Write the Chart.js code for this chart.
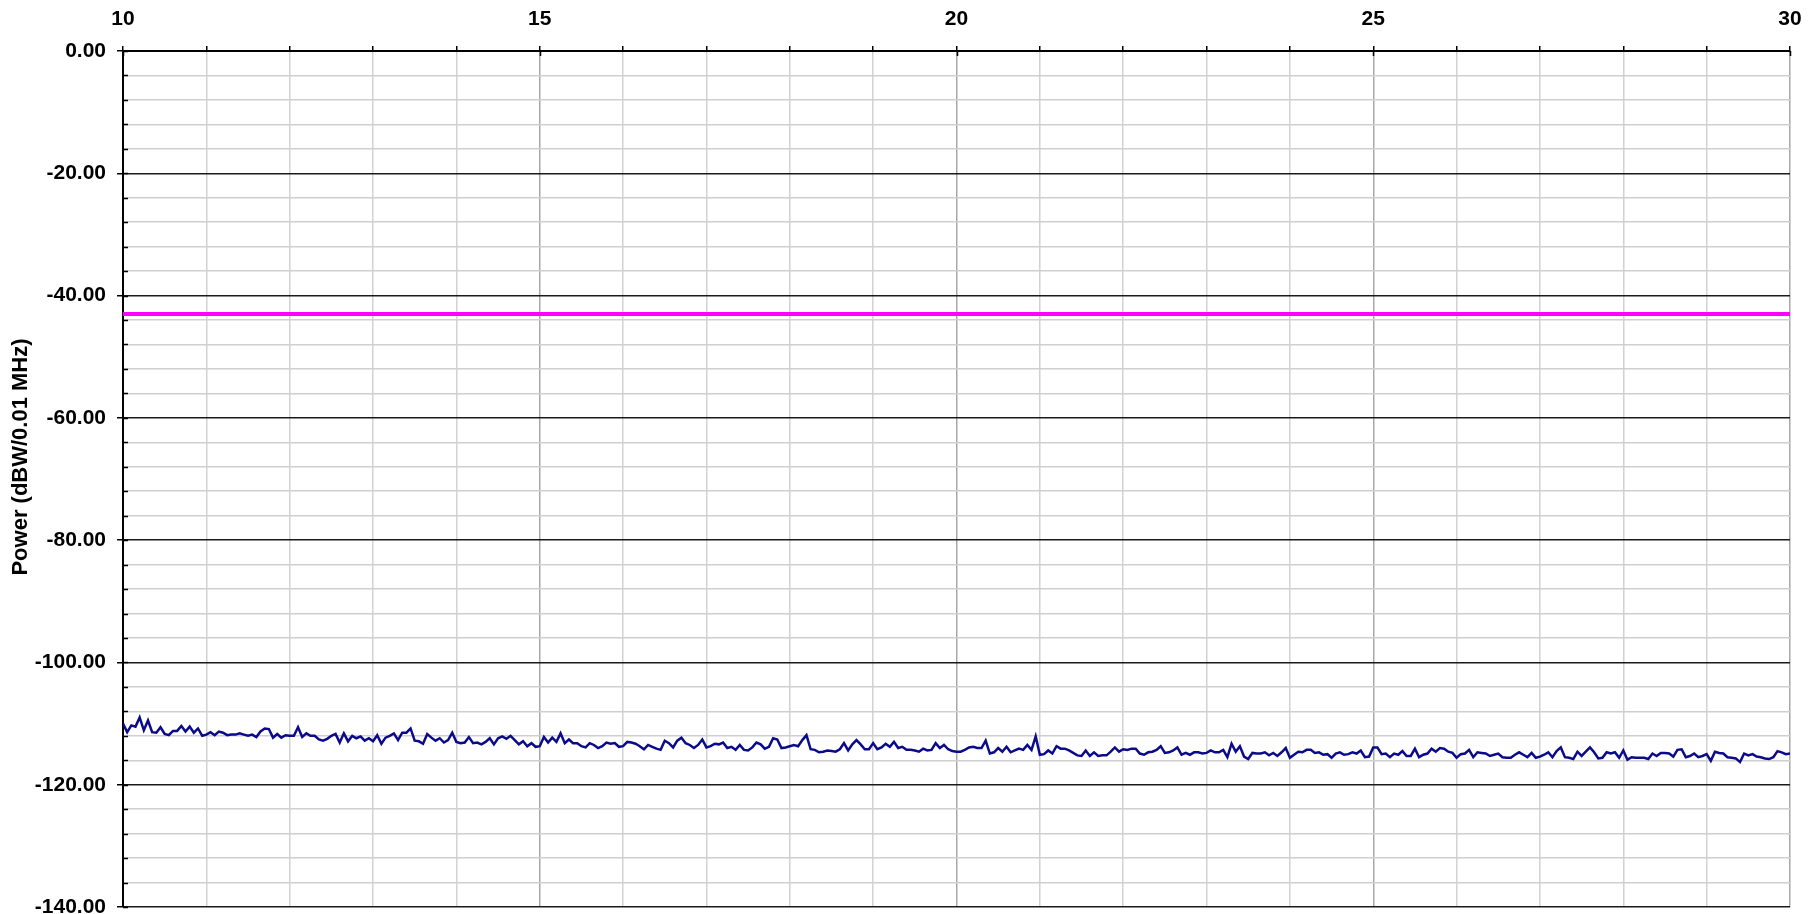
<!DOCTYPE html>
<html>
<head>
<meta charset="utf-8">
<script src="https://cdn.jsdelivr.net/npm/chart.js@4.4.1/dist/chart.umd.min.js"></script>
<style>
  html, body { margin: 0; padding: 0; background: #fff; }
  #wrap { position: relative; width: 1810px; height: 914px; }
</style>
</head>
<body>
<div id="wrap"><canvas id="spectrum"></canvas></div>
<script>
// frequency grid of the sweep (x axis), 10 .. 30 in 0.05 steps
const freqStart = 10;
const freqStep = 0.05;

// measured power, dBW/0.01 MHz
const power = [
  -110.0, -111.4, -110.3, -110.5, -109.0, -111.1, -109.5, -111.4, -111.5, -110.6,
  -111.7, -111.9, -111.2, -111.2, -110.4, -111.3, -110.5, -111.5, -110.8, -112.0,
  -111.8, -111.4, -111.9, -111.3, -111.5, -111.9, -111.8, -111.8, -111.6, -111.8,
  -112.0, -111.8, -112.2, -111.3, -110.8, -110.9, -112.3, -111.7, -112.3, -111.9,
  -112.0, -112.0, -110.6, -112.2, -111.6, -112.0, -112.0, -112.6, -112.8, -112.5,
  -112.0, -111.7, -113.1, -111.6, -112.9, -112.0, -112.4, -112.1, -112.8, -112.4,
  -112.9, -111.9, -113.3, -112.3, -112.0, -111.6, -112.7, -111.5, -111.5, -110.8,
  -112.8, -112.9, -113.3, -111.7, -112.3, -112.8, -112.4, -113.1, -112.7, -111.5,
  -113.0, -113.2, -113.1, -112.2, -113.2, -113.1, -113.4, -113.0, -112.4, -113.4,
  -112.4, -112.1, -112.5, -112.0, -112.7, -113.4, -112.9, -113.7, -113.2, -113.8,
  -113.7, -112.2, -113.1, -112.3, -113.0, -111.6, -113.2, -112.6, -113.2, -113.2,
  -113.7, -113.9, -113.2, -113.5, -114.0, -113.7, -113.1, -113.3, -113.2, -113.8,
  -113.7, -113.0, -113.1, -113.3, -113.7, -114.2, -113.5, -113.8, -114.1, -114.3,
  -112.8, -113.2, -113.9, -112.8, -112.3, -113.2, -113.5, -114.0, -113.5, -112.6,
  -113.9, -113.7, -113.3, -113.4, -113.1, -114.0, -113.8, -114.3, -113.5, -114.3,
  -114.4, -113.9, -113.1, -113.4, -114.1, -113.8, -112.4, -112.6, -114.0, -113.9,
  -113.7, -113.5, -113.7, -112.7, -111.9, -114.2, -114.3, -114.7, -114.6, -114.4,
  -114.5, -114.6, -114.2, -113.2, -114.4, -113.4, -112.7, -113.4, -114.2, -114.2,
  -113.2, -114.2, -113.9, -113.3, -113.8, -113.0, -114.0, -113.8, -114.3, -114.3,
  -114.4, -114.6, -114.1, -114.4, -114.3, -113.2, -114.0, -113.5, -114.2, -114.5,
  -114.6, -114.6, -114.3, -113.9, -113.8, -114.0, -114.0, -112.8, -114.9, -114.7,
  -114.0, -114.6, -113.8, -114.7, -114.4, -114.1, -114.3, -113.5, -114.3, -112.1,
  -115.1, -115.0, -114.4, -114.9, -113.7, -114.1, -114.1, -114.4, -114.8, -115.2,
  -115.3, -114.4, -115.3, -114.7, -115.3, -115.2, -115.2, -114.6, -113.9, -114.6,
  -114.2, -114.3, -114.1, -114.1, -114.9, -115.1, -114.7, -114.6, -114.3, -113.7,
  -114.8, -114.7, -114.4, -113.9, -115.1, -114.8, -115.1, -114.7, -114.7, -114.9,
  -114.8, -114.4, -114.7, -114.7, -114.3, -115.5, -113.3, -114.6, -113.7, -115.4,
  -115.8, -114.8, -114.9, -114.9, -114.7, -115.2, -114.8, -115.3, -114.7, -114.0,
  -115.6, -115.1, -114.6, -114.7, -114.3, -114.3, -114.8, -114.7, -115.1, -115.0,
  -115.6, -114.9, -114.7, -115.1, -115.0, -114.7, -114.9, -114.4, -115.5, -115.4,
  -113.9, -113.9, -115.0, -114.9, -115.5, -114.9, -115.1, -114.5, -115.3, -115.3,
  -114.1, -115.5, -115.1, -114.9, -114.1, -114.6, -114.0, -114.1, -114.6, -114.8,
  -115.6, -115.0, -114.9, -114.3, -115.5, -114.7, -114.8, -114.9, -115.3, -115.1,
  -114.9, -115.5, -115.6, -115.6, -115.1, -114.7, -115.1, -115.5, -114.8, -115.6,
  -115.4, -115.1, -114.7, -115.5, -114.5, -113.9, -115.5, -115.6, -115.8, -114.6,
  -115.3, -114.6, -113.9, -114.7, -115.7, -115.6, -114.7, -114.9, -114.7, -115.6,
  -114.4, -115.9, -115.5, -115.6, -115.6, -115.6, -115.8, -114.9, -115.3, -114.8,
  -114.8, -114.9, -115.4, -114.3, -114.2, -115.5, -115.3, -114.9, -115.5, -115.3,
  -115.0, -116.1, -114.6, -114.8, -114.9, -115.5, -115.6, -115.7, -116.3, -114.9,
  -115.2, -115.0, -115.4, -115.5, -115.7, -115.8, -115.5, -114.5, -114.7, -115.0,
  -114.9
];

// limit mask (flat)
const limitFreqs = [10, 30];
const limitLevel = [-43, -43];

// axes
const xMin = 10, xMax = 30, xMinorStep = 1, xLabelEvery = 5;
const yMin = -140, yMax = 0, yMinorStep = 4, yLabelEvery = 20;
const yTitle = "Power (dBW/0.01 MHz)";

const traceData = power.map((p, i) => ({ x: +(freqStart + i * freqStep).toFixed(2), y: p }));
const limitData = limitFreqs.map((f, i) => ({ x: f, y: limitLevel[i] }));

const FONT = '"Liberation Sans", Arial, Helvetica, sans-serif';
Chart.defaults.font.family = FONT;
Chart.defaults.color = "#000";

// inside tick stubs + rotated y title centred on the canvas
const axisExtras = {
  id: "axisExtras",
  afterDraw(chart) {
    const { ctx, chartArea, scales } = chart;
    ctx.save();
    ctx.strokeStyle = "#000";
    ctx.lineWidth = 1.5;
    ctx.beginPath();
    scales.y.ticks.forEach(t => {
      const py = Math.round(scales.y.getPixelForValue(t.value)) + 0.5;
      ctx.moveTo(chartArea.left, py);
      ctx.lineTo(chartArea.left + 5, py);
    });
    scales.x.ticks.forEach(t => {
      if (t.value % xLabelEvery !== 0) return;
      const px = Math.round(scales.x.getPixelForValue(t.value)) + 0.5;
      ctx.moveTo(px, chartArea.top);
      ctx.lineTo(px, chartArea.top + 5);
    });
    ctx.stroke();

    ctx.translate(21, chart.height / 2);
    ctx.rotate(-Math.PI / 2);
    ctx.font = "bold 22px " + FONT;
    ctx.fillStyle = "#000";
    ctx.textAlign = "center";
    ctx.textBaseline = "middle";
    ctx.fillText(yTitle, 0, 0);
    ctx.restore();
  }
};

new Chart(document.getElementById("spectrum").getContext("2d"), {
  type: "line",
  data: {
    datasets: [
      {
        label: "Limit",
        data: limitData,
        borderColor: "#ff00ff",
        borderWidth: 4,
        pointRadius: 0,
        fill: false
      },
      {
        label: "Measured",
        data: traceData,
        borderColor: "#0a0a8a",
        borderWidth: 2.5,
        pointRadius: 0,
        tension: 0,
        fill: false
      }
    ]
  },
  options: {
    responsive: true,
    maintainAspectRatio: false,
    devicePixelRatio: 1,
    animation: false,
    layout: { padding: { left: 0, right: 20, top: 0, bottom: 7 } },
    plugins: {
      legend: { display: false },
      tooltip: { enabled: false }
    },
    scales: {
      x: {
        type: "linear",
        position: "top",
        min: xMin,
        max: xMax,
        ticks: {
          stepSize: xMinorStep,
          autoSkip: false,
          maxRotation: 0,
          padding: 14,
          font: { size: 21, weight: "bold" },
          callback: v => (v % xLabelEvery === 0 ? String(v) : "")
        },
        grid: {
          color: c => (c.tick && c.tick.value % xLabelEvery === 0 ? "#a8a8a8" : "#d2d2d2"),
          lineWidth: 1.5,
          tickLength: 5,
          tickWidth: 1.5,
          tickColor: "#000"
        },
        border: { color: "#000", width: 2 },
        afterFit: s => { s.height = 51; s.paddingLeft = 0; s.paddingRight = 0; }
      },
      y: {
        type: "linear",
        position: "left",
        min: yMin,
        max: yMax,
        ticks: {
          stepSize: yMinorStep,
          autoSkip: false,
          padding: 11,
          font: { size: 21, weight: "bold" },
          callback: v => (v % yLabelEvery === 0 ? v.toFixed(2) : "")
        },
        grid: {
          color: c => (c.tick && c.tick.value % yLabelEvery === 0 ? "#1a1a1a" : "#cfcfcf"),
          lineWidth: 1.5,
          tickLength: 6,
          tickWidth: 1.5,
          tickColor: c => (c.tick && c.tick.value % yLabelEvery === 0 ? "#000" : "rgba(0,0,0,0)")
        },
        border: { color: "#000", width: 2 },
        afterFit: s => { s.width = 123; s.paddingTop = 0; s.paddingBottom = 0; }
      }
    }
  },
  plugins: [axisExtras]
});
</script>
</body>
</html>
